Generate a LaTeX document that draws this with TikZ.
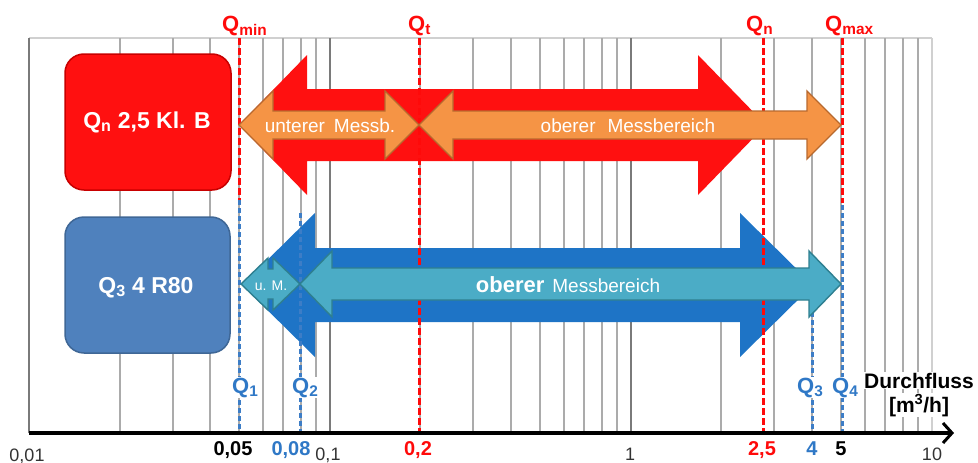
\documentclass[tikz,border=0pt]{standalone}
\usepackage{fontspec}
\setmainfont{Liberation Sans}
\usetikzlibrary{arrows.meta}
\definecolor{qred}{HTML}{FF0A0A}
\definecolor{qblue}{HTML}{2F78C6}
\definecolor{dashblue}{HTML}{3D7DC6}
\definecolor{darkblue}{HTML}{1E74C6}
\definecolor{tealf}{HTML}{4BACC6}
\definecolor{tealb}{HTML}{2E7F90}
\definecolor{orngf}{HTML}{F59445}
\definecolor{orngb}{HTML}{B8692E}
\definecolor{redf}{HTML}{FF1010}
\definecolor{redb}{HTML}{C80000}
\definecolor{boxblue}{HTML}{4F81BD}
\definecolor{boxblueb}{HTML}{3F6796}
\definecolor{gmaj}{HTML}{7A7A7A}
\definecolor{gmin}{HTML}{ABABAB}
\definecolor{glight}{HTML}{D0D0D0}
\definecolor{lbl}{HTML}{333333}
\newcommand\dblarrow[7]{%
  \path[#7] (#1,#3) -- (#1+#6,#3-#5) -- (#1+#6,#3-#4) -- (#2-#6,#3-#4)
    -- (#2-#6,#3-#5) -- (#2,#3) -- (#2-#6,#3+#5) -- (#2-#6,#3+#4)
    -- (#1+#6,#3+#4) -- (#1+#6,#3+#5) -- cycle;}
\tikzset{
  gridminor/.style={draw=gmin, line width=2pt},
  gridmajor/.style={draw=gmaj, line width=2.6pt},
  reddash/.style={draw=qred, line width=3pt, dash pattern=on 7pt off 3pt},
  bluedash/.style={draw=dashblue, line width=3pt, dash pattern=on 5pt off 3pt},
  bigred/.style={fill=redf},
  bigblue/.style={fill=darkblue},
  orangearrow/.style={fill=orngf, draw=orngb, line width=1.4pt, line join=miter},
  tealarrow/.style={fill=tealf, draw=tealb, line width=1.4pt, line join=miter},
  meterbox/.style={rounded corners=19pt, line width=1.5pt},
  boxtxt/.style={text=white, font=\fontsize{23}{27}\selectfont\bfseries, anchor=base, inner sep=0pt},
  arrtxt/.style={text=white, font=\fontsize{19}{22}\selectfont, anchor=base, inner sep=0pt},
  toplbl/.style={text=qred, font=\fontsize{22}{26}\selectfont\bfseries, anchor=base west, inner sep=0pt},
  qlbl/.style={text=qblue, font=\fontsize{22}{26}\selectfont\bfseries, anchor=base west, inner sep=1pt, fill=white},
  axlbl/.style={text=lbl, font=\fontsize{18}{22}\selectfont, anchor=base, inner sep=0pt},
  axbold/.style={font=\fontsize{20}{24}\selectfont\bfseries, anchor=base, inner sep=0pt},
  unitlbl/.style={text=black, font=\fontsize{21}{25}\selectfont\bfseries, anchor=base, inner sep=1pt, fill=white},
}
\begin{document}
\begin{tikzpicture}[x=1pt, y=-1pt]
\useasboundingbox (0,0) rectangle (978,463);
% grid
\draw[draw=glight, line width=1.6pt] (29,38) -- (932,38);
\foreach \d in {0,1,2}{
  \foreach \m in {2,...,9}{
    \pgfmathsetmacro\gx{29+300.9*(\d+log10(\m))}
    \draw[gridminor] (\gx,38) -- (\gx,433);
  }
}
\draw[gridminor, draw=glight] (932,38) -- (932,433);
\foreach \gx in {29,330,631}{
  \draw[gridmajor] (\gx,38) -- (\gx,433);
}
% big arrows
\dblarrow{239}{766}{125}{36}{70}{68}{bigred}
\dblarrow{242}{813}{285}{37}{72}{73}{bigblue}
% dashed reference lines
\coordinate (qminT) at (239,38);   \coordinate (qminM) at (239,200);  \coordinate (q1B) at (239,433);
\coordinate (qtT) at (419,38);     \coordinate (qtB) at (419,433);
\coordinate (qnT) at (763,38);     \coordinate (qnB) at (763,433);
\coordinate (qmaxT) at (842,38);   \coordinate (qmaxM) at (842,203);  \coordinate (q4B) at (842,433);
\coordinate (q2T) at (300,213);    \coordinate (q2B) at (300,433);
\coordinate (q3T) at (812,312);    \coordinate (q3B) at (812,433);
\draw[reddash] (qminT) -- (qminM);
\draw[bluedash] (qminM) -- (q1B);
\draw[reddash] (qtT) -- (qtB);
\draw[reddash] (qnT) -- (qnB);
\draw[reddash] (qmaxT) -- (qmaxM);
\draw[bluedash] ([yshift=-2pt]qmaxM) -- (q4B);
\draw[bluedash] (q2T) -- (q2B);
\draw[bluedash] (q3T) -- (q3B);
% inner arrows
\dblarrow{239}{419}{125}{14}{34}{34}{orangearrow}
\dblarrow{419}{841}{125}{14}{34}{34}{orangearrow}
\dblarrow{241}{300}{284}{15}{26}{27}{tealarrow}
\dblarrow{300}{841}{284}{16}{33}{32}{tealarrow}
% meter boxes
\draw[meterbox, fill=redf, draw=redb] (65,54) rectangle (231,190);
\draw[meterbox, fill=boxblue, draw=boxblueb] (65,217) rectangle (230,353);
\node[boxtxt] (redtxt) at (147,128) {Q\textsubscript{n} 2,5 Kl. B};
\node[boxtxt] (bluetxt) at (146,293) {Q\textsubscript{3} 4 R80};
% arrow texts
\node[arrtxt] (unt) at (330,132) {unterer\hspace{9pt}Messb.};
\node[arrtxt] (obo) at (628,132) {oberer\hspace{12pt}Messbereich};
\node[arrtxt, font=\fontsize{14}{16}\selectfont] (um) at (271,290) {u. M.};
\node[arrtxt] (obb) at (568,292) {{\fontsize{22}{24}\selectfont\bfseries oberer}\hspace{8pt}{\fontsize{19}{22}\selectfont Messbereich}};
% top labels
\node[toplbl] (lqmin) at (222,31) {Q\textsubscript{min}};
\node[toplbl] (lqt) at (408,31) {Q\textsubscript{t}};
\node[toplbl] (lqn) at (746,31) {Q\textsubscript{n}};
\node[toplbl] (lqmax) at (825,31) {Q\textsubscript{max}};
% blue Q labels
\node[qlbl] (lq1) at (231,393) {Q\textsubscript{1}};
\node[qlbl] (lq2) at (291,393) {Q\textsubscript{2}};
\node[qlbl] (lq3) at (796,393) {Q\textsubscript{3}};
\node[qlbl] (lq4) at (831,393) {Q\textsubscript{4}};
% axis
\coordinate (axL) at (29,433);
\coordinate (axR) at (954,433);
\draw[line width=4pt, -{Straight Barb[length=9pt, width=20pt, line width=3pt]}] (axL) -- (axR);
\node[unitlbl] (dfl) at (919,388) {Durchfluss};
\node[unitlbl] (unit) at (919,412) {[m\textsuperscript{3}/h]};
% axis labels
\node[axlbl] (a001) at (27,461) {0,01};
\node[axbold, text=black] (a005) at (233,455) {0,05};
\node[axbold, text=qblue] (a008) at (291,455) {0,08};
\node[axlbl] (a01) at (328,460) {0,1};
\node[axbold, text=qred] (a02) at (418,455) {0,2};
\node[axlbl] (a1) at (630,460) {1};
\node[axbold, text=qred] (a25) at (762,455) {2,5};
\node[axbold, text=qblue] (a4) at (812,455) {4};
\node[axbold, text=black] (a5) at (841,455) {5};
\node[axlbl] (a10) at (932,460) {10};
\end{tikzpicture}
\end{document}
